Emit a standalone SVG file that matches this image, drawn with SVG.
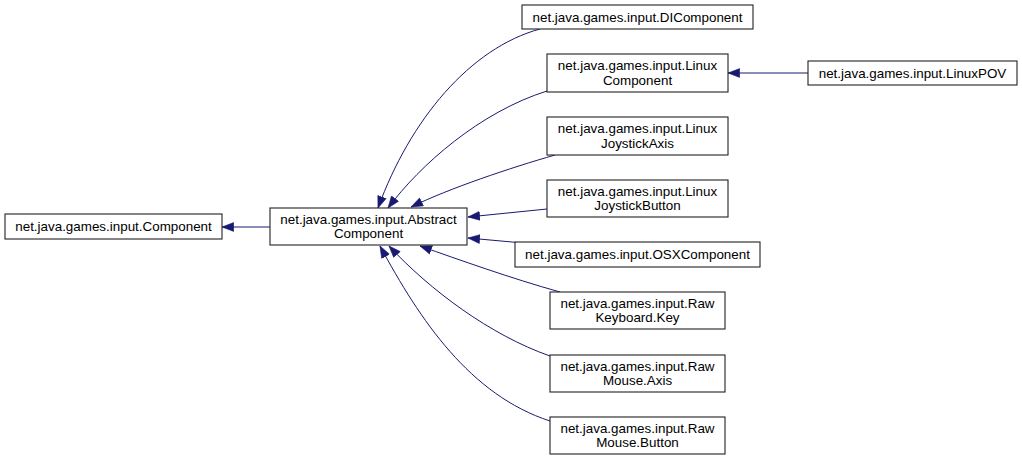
<svg xmlns="http://www.w3.org/2000/svg" width="1022" height="461" viewBox="0 0 1022 461">
<style>
.box{fill:#ffffff;stroke:#222222;stroke-width:1.1}
.t{font-family:"Liberation Sans",Arial,sans-serif;font-size:13.4px;fill:#000000;text-anchor:middle}
.e{fill:none;stroke:#191970;stroke-width:1;marker-end:url(#arr)}
</style>
<defs>
<marker id="arr" markerUnits="userSpaceOnUse" markerWidth="13" markerHeight="10" refX="12" refY="5" orient="auto" viewBox="0 0 13 10">
<path d="M0.3,0.6 L12,5 L0.3,9.4 z" fill="#191970" stroke="#191970" stroke-width="0.6"/>
</marker>
</defs>
<rect width="1022" height="461" fill="#ffffff"/>
<g id="connectors">
<path class="e" d="M540,29 C470,48 410,120 378,208"/>
<path class="e" d="M547,91 C480,112 420,165 388,208"/>
<path class="e" d="M555,155 C510,168 450,188 411,207"/>
<path class="e" d="M547,209 L468,217"/>
<path class="e" d="M523,243 L468,238"/>
<path class="e" d="M560,292 C510,278 460,260 420,246"/>
<path class="e" d="M550,356 C490,335 430,290 389,246"/>
<path class="e" d="M550,421 C470,395 420,320 380,246"/>
<path class="e" d="M270,227 L222,227"/>
<path class="e" d="M808,73 L728,73"/>
</g>
<g id="node_component">
<rect class="box" x="5" y="214" width="217" height="25"/>
<text class="t" x="113.5" y="231">net.java.games.input.Component</text>
</g>
<g id="node_abstract">
<rect class="box" x="270" y="208" width="197" height="37"/>
<text class="t" x="368.5" y="223.5">net.java.games.input.Abstract</text>
<text class="t" x="368.5" y="238">Component</text>
</g>
<g id="node_di">
<rect class="box" x="522" y="5" width="231" height="24"/>
<text class="t" x="637.5" y="21.5">net.java.games.input.DIComponent</text>
</g>
<g id="node_linuxcomponent">
<rect class="box" x="547" y="54" width="181" height="38"/>
<text class="t" x="637.5" y="70">net.java.games.input.Linux</text>
<text class="t" x="637.5" y="84.5">Component</text>
</g>
<g id="node_linuxjoystickaxis">
<rect class="box" x="547" y="117" width="181" height="38"/>
<text class="t" x="637.5" y="133">net.java.games.input.Linux</text>
<text class="t" x="637.5" y="147.5">JoystickAxis</text>
</g>
<g id="node_linuxjoystickbutton">
<rect class="box" x="547" y="180" width="181" height="37"/>
<text class="t" x="637.5" y="195.5">net.java.games.input.Linux</text>
<text class="t" x="637.5" y="210">JoystickButton</text>
</g>
<g id="node_osx">
<rect class="box" x="515" y="242" width="245" height="25"/>
<text class="t" x="637.5" y="259">net.java.games.input.OSXComponent</text>
</g>
<g id="node_rawkeyboardkey">
<rect class="box" x="550" y="292" width="175" height="37"/>
<text class="t" x="637.5" y="307.5">net.java.games.input.Raw</text>
<text class="t" x="637.5" y="322">Keyboard.Key</text>
</g>
<g id="node_rawmouseaxis">
<rect class="box" x="550" y="355" width="175" height="37"/>
<text class="t" x="637.5" y="370.5">net.java.games.input.Raw</text>
<text class="t" x="637.5" y="385">Mouse.Axis</text>
</g>
<g id="node_rawmousebutton">
<rect class="box" x="550" y="417" width="175" height="37"/>
<text class="t" x="637.5" y="432.5">net.java.games.input.Raw</text>
<text class="t" x="637.5" y="447">Mouse.Button</text>
</g>
<g id="node_linuxpov">
<rect class="box" x="808" y="61" width="209" height="24"/>
<text class="t" x="912.5" y="77.5">net.java.games.input.LinuxPOV</text>
</g>
</svg>
